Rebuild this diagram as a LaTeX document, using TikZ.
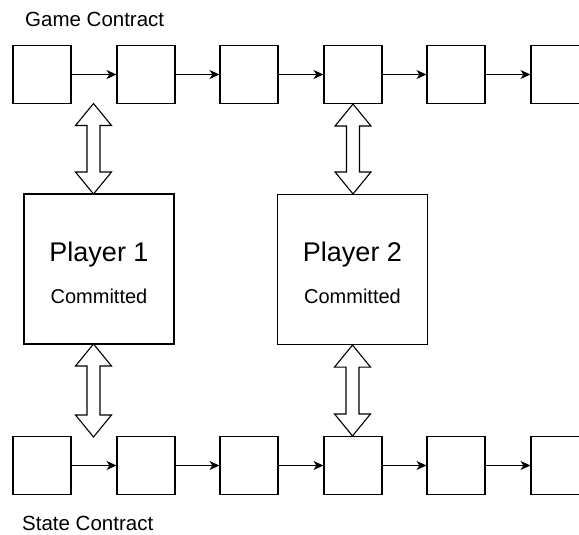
\documentclass[tikz,border=0pt]{standalone}
\usepackage{fontspec}
\setmainfont{Liberation Sans}
\usetikzlibrary{arrows.meta,calc}

\tikzset{
  block/.style={draw=black, line width=1.1pt, minimum width=58pt, minimum height=58pt, inner sep=0pt, fill=white},
  player/.style={draw=black, line width=1.1pt, minimum width=150pt, minimum height=150pt, inner sep=0pt},
  link/.style={draw=black, line width=1.1pt, -{Stealth[length=10pt, width=9pt, inset=3pt]}},
  flex/.style={draw=black, line width=1.1pt, fill=white, line join=miter},
  caption/.style={font=\fontsize{20.5}{24}\selectfont, anchor=base west, inner sep=0pt},
  ptitle/.style={font=\fontsize{27}{32}\selectfont, anchor=base, inner sep=0pt},
  pnote/.style={font=\fontsize{20}{24}\selectfont, anchor=base, inner sep=0pt},
}

% hollow double-headed arrow from a top point (#1) down to a bottom point (#2)
\newcommand\flexarrow[2]{%
  \path[flex] let \p1=(#1), \p2=(#2) in
    (\x1,\y1) -- (\x1+18pt,\y1-22pt) -- (\x1+6.5pt,\y1-22pt)
    -- (\x1+6.5pt,\y2+22pt) -- (\x1+18pt,\y2+22pt) -- (\x1,\y2)
    -- (\x1-18pt,\y2+22pt) -- (\x1-6.5pt,\y2+22pt)
    -- (\x1-6.5pt,\y1-22pt) -- (\x1-18pt,\y1-22pt) -- cycle;}

\begin{document}
\begin{tikzpicture}[x=1pt, y=-1pt]
  \clip (0,0) rectangle (579,535);

  % chain of game contract states
  \foreach \i/\x in {1/42, 2/146, 3/249, 4/353, 5/456, 6/560} {
    \node[block] (g\i) at (\x,74.5) {};
    \node[block] (s\i) at (\x,465.5) {};
  }
  \foreach \a/\b in {1/2, 2/3, 3/4, 4/5, 5/6} {
    \draw[link] (g\a) -- (g\b);
    \draw[link] (s\a) -- (s\b);
  }

  \node[caption] (gc) at (25,27) {Game Contract};
  \node[caption] (sc) at (22,530) {State Contract};

  % players
  \node[player] (p1) at (99,269) {};
  \node[player] (p2) at (352.5,269.5) {};
  \node[ptitle] (p1t) at ($(p1.center)+(0,-8)$) {Player 1};
  \node[pnote]  (p1n) at ($(p1.center)+(0,34)$) {Committed};
  \node[ptitle] (p2t) at ($(p2.center)+(0,-8)$) {Player 2};
  \node[pnote]  (p2n) at ($(p2.center)+(0,34)$) {Committed};

  % attachment points of the two-way links
  \coordinate (a1t) at (93.5,103.5);
  \coordinate (a1b) at (93.5,194);
  \coordinate (b1t) at (93.5,344);
  \coordinate (b1b) at (93.5,437);
  \coordinate (a2t) at ($(g4.south)$);
  \coordinate (a2b) at ($(p2.north)$);
  \coordinate (b2t) at ($(p2.south)$);
  \coordinate (b2b) at ($(s4.north)$);

  \flexarrow{a1t}{a1b}
  \flexarrow{b1t}{b1b}
  \flexarrow{a2t}{a2b}
  \flexarrow{b2t}{b2b}
\end{tikzpicture}
\end{document}
